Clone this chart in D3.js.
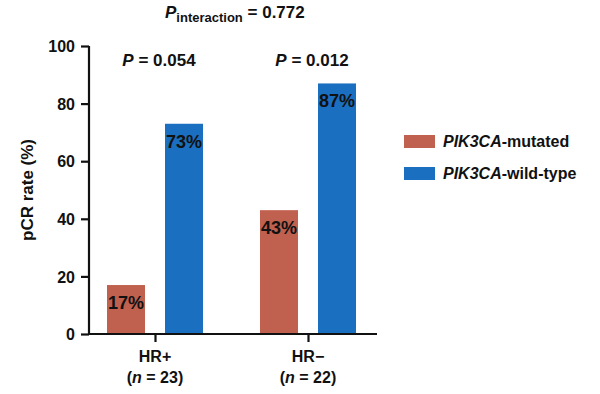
<!DOCTYPE html>
<html><head><meta charset="utf-8">
<script src="https://cdn.jsdelivr.net/npm/d3@7"></script>
<style>
body{margin:0;background:#fff;}
svg text{font-family:"Liberation Sans",Arial,Helvetica,sans-serif;font-weight:bold;fill:#111;}
</style></head>
<body><svg id="c" width="600" height="394"></svg>
<script>
const groups = ["HR+", "HR\u2212"];
const groupN = ["23", "22"];
const series = ["PIK3CA-mutated", "PIK3CA-wild-type"];
const mutated = [17, 43];
const wildType = [73, 87];
const pValues = ["0.054", "0.012"];
const pInteraction = "0.772";
const yTicks = [0, 20, 40, 60, 80, 100];
const colors = ["#c0604f", "#1b6fc0"];

const svg = d3.select("#c");
const y = d3.scaleLinear().domain([0, 100]).range([334, 46]);
const x = d3.scalePoint().domain(groups).range([155, 308]);
const xs = d3.scaleBand().domain(series).range([-48, 48]).paddingInner(0.345);
const values = [mutated, wildType];

// bars
groups.forEach((g, gi) => {
  series.forEach((s, si) => {
    const v = values[si][gi];
    svg.append("rect")
      .attr("x", x(g) + xs(s)).attr("width", xs.bandwidth())
      .attr("y", y(v)).attr("height", y(0) - y(v))
      .attr("fill", colors[si]);
    svg.append("text")
      .attr("x", x(g) + xs(s) + xs.bandwidth() / 2)
      .attr("y", y(v) + 24)
      .attr("text-anchor", "middle")
      .attr("font-size", 18)
      .text(v + "%");
  });
});

// y axis
const yAxis = svg.append("g").attr("transform", "translate(89,0)")
  .call(d3.axisLeft(y).tickValues(yTicks).tickSize(8).tickPadding(6));
yAxis.select(".domain").attr("stroke", "#111").attr("stroke-width", 2.2)
  .attr("d", `M0,${y(100)}V${y(0)}`);
yAxis.selectAll(".tick line").attr("stroke", "#111").attr("stroke-width", 2.2);
yAxis.selectAll(".tick text").attr("font-size", 16).attr("dy", "0.36em")
  .style("font-family", "'Liberation Sans',Arial,sans-serif").style("font-weight", "bold").attr("fill", "#111");

// x axis
const xAxis = svg.append("g").attr("transform", `translate(0,${y(0)})`)
  .call(d3.axisBottom(x).tickSize(8).tickFormat(""));
xAxis.select(".domain").attr("stroke", "#111").attr("stroke-width", 2.2)
  .attr("d", "M88,0H377");
xAxis.selectAll(".tick line").attr("stroke", "#111").attr("stroke-width", 2.2);

groups.forEach((g, gi) => {
  svg.append("text").attr("x", x(g)).attr("y", 362)
    .attr("text-anchor", "middle").attr("font-size", 16).text(g);
  const t = svg.append("text").attr("x", x(g)).attr("y", 383)
    .attr("text-anchor", "middle").attr("font-size", 16);
  t.append("tspan").text("(");
  t.append("tspan").attr("font-style", "italic").text("n");
  t.append("tspan").text(" = " + groupN[gi] + ")");
  // p-values
  const p = svg.append("text").attr("x", x(g) + 4).attr("y", 66)
    .attr("text-anchor", "middle").attr("font-size", 17);
  p.append("tspan").attr("font-style", "italic").text("P");
  p.append("tspan").text(" = " + pValues[gi]);
});

// interaction P
const pi = svg.append("text").attr("x", 165).attr("y", 18).attr("font-size", 17);
pi.append("tspan").attr("font-style", "italic").text("P");
pi.append("tspan").attr("font-size", 13).attr("dy", 4).text("interaction");
pi.append("tspan").attr("dy", -4).text(" = " + pInteraction);

// y label
svg.append("text").attr("transform", "translate(33,190) rotate(-90)")
  .attr("text-anchor", "middle").attr("font-size", 17).text("pCR rate (%)");

// legend
series.forEach((s, si) => {
  const ly = 141 + si * 32;
  svg.append("rect").attr("x", 404).attr("y", ly - 6).attr("width", 31).attr("height", 13)
    .attr("fill", colors[si]);
  const t = svg.append("text").attr("x", 443).attr("y", ly).attr("dy", "0.36em").attr("font-size", 16);
  const parts = s.split("-");
  t.append("tspan").attr("font-style", "italic").text(parts[0]);
  t.append("tspan").text("-" + parts.slice(1).join("-"));
});
</script></body></html>
